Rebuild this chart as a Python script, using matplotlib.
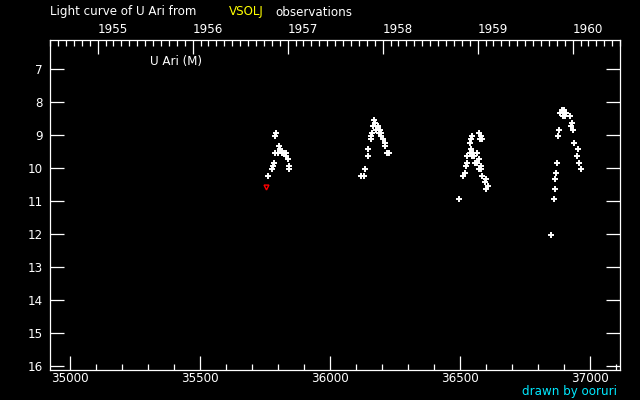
import matplotlib
matplotlib.use("Agg")
import matplotlib.pyplot as plt
from datetime import date

# observations (JD - 2400000, visual magnitude)
jd = [35794, 35790, 35806, 35810, 35788, 35801, 35817, 35825, 35833, 35833,
      35839, 35787, 35783, 35778, 35842, 35842, 35764,
      36171, 36175, 36167, 36187, 36179, 36194, 36164, 36190, 36198, 36198,
      36160, 36160, 36204, 36214, 36214, 36148, 36220, 36228, 36147, 36137,
      36121, 36133,
      36575, 36548, 36583, 36544, 36579, 36587, 36540, 36543, 36540, 36552,
      36567, 36529, 36548, 36556, 36575, 36529, 36560, 36567, 36524, 36583,
      36575, 36583, 36521, 36513, 36587, 36602, 36598, 36610, 36602, 36498,
      36894, 36902, 36887, 36906, 36910, 36898, 36906, 36925, 36932, 36929,
      36883, 36937, 36879, 36940, 36956, 36952, 36961, 36875, 36967, 36871,
      36867, 36867, 36864, 36852]
mag = [8.94, 9.03, 9.33, 9.42, 9.55, 9.55, 9.55, 9.55, 9.55, 9.64,
       9.73, 9.85, 9.94, 10.03, 9.94, 10.03, 10.24,
       8.55, 8.64, 8.73, 8.73, 8.85, 8.85, 8.94, 8.94, 8.94, 9.03,
       9.03, 9.12, 9.12, 9.24, 9.33, 9.42, 9.55, 9.55, 9.64, 10.03,
       10.24, 10.24,
       8.94, 9.03, 9.03, 9.12, 9.12, 9.12, 9.24, 9.42, 9.55, 9.55,
       9.55, 9.64, 9.64, 9.64, 9.73, 9.85, 9.85, 9.85, 9.94, 9.94,
       10.03, 10.03, 10.15, 10.24, 10.24, 10.34, 10.43, 10.55, 10.64, 10.94,
       8.24, 8.24, 8.33, 8.33, 8.33, 8.42, 8.42, 8.42, 8.64, 8.73,
       8.85, 8.85, 9.03, 9.24, 9.42, 9.64, 9.85, 9.85, 10.03, 10.15,
       10.34, 10.64, 10.94, 12.03]

# fainter-than observations
jd_red = [35756]
mag_red = [10.58]

years = [1955, 1956, 1957, 1958, 1959, 1960]
mag_ticks = [7, 8, 9, 10, 11, 12, 13, 14, 15, 16]
jd_ticks = [35000, 35500, 36000, 36500, 37000]

XMIN, XMAX = 34924, 37117
FS = 8.6


def to_jd(d):
    # JD - 2400000 at 0h UT
    return (d - date(1858, 11, 17)).days + 0.5


fig = plt.figure(figsize=(6.4, 4), dpi=100, facecolor="black")
ax = fig.add_axes([50/640, 30/400, 570/640, 330/400], facecolor="black")

ax.plot(jd, mag, "+", color="white", ms=4.5, mew=1.4, ls="none")
ax.plot(jd_red, mag_red, "v", color="red", ms=3.5, mfc="none", mew=1.0, ls="none")

ax.set_xticks(jd_ticks)
ax.set_xticks([t for t in range(34900, 37200, 100) if XMIN < t < XMAX], minor=True)
ax.set_yticks(mag_ticks)
ax.set_xlim(XMIN, XMAX)
ax.set_ylim(16.12, 6.11)
ax.tick_params(axis="both", which="both", direction="in", colors="white",
               labelsize=FS, width=0.9)
ax.tick_params(axis="x", which="major", length=10, pad=1.5, top=False)
ax.tick_params(axis="x", which="minor", length=4.5, top=False)
ax.tick_params(axis="y", which="major", length=10, pad=5, right=True)
ax.tick_params(axis="y", which="minor", left=False, right=False)
for s in ax.spines.values():
    s.set_color("white")
    s.set_linewidth(0.9)

# top axis: calendar years, labels start at the tick
top = ax.twiny()
top.set_xticks([to_jd(date(y, 1, 1)) for y in years])
top.set_xticklabels([str(y) for y in years], ha="left")
months = [to_jd(date(y, m, 1)) for y in range(1954, 1962) for m in range(1, 13)]
top.set_xticks([t for t in months if XMIN < t < XMAX], minor=True)
top.set_xlim(XMIN, XMAX)
top.tick_params(axis="x", which="both", direction="in", colors="white",
                labelsize=FS, width=0.9)
top.tick_params(axis="x", which="major", length=10, pad=3)
top.tick_params(axis="x", which="minor", length=4)
for s in top.spines.values():
    s.set_visible(False)

ax.text(100/570, 1 - 21/330, "U Ari (M)", transform=ax.transAxes,
        color="white", fontsize=FS, ha="left", va="center")

fig.text(50/640, 1 - 12/400, "Light curve of U Ari from", color="white",
         fontsize=FS, ha="left", va="center")
fig.text(229/640, 1 - 12/400, "VSOLJ", color="yellow",
         fontsize=FS, ha="left", va="center")
fig.text(275/640, 1 - 12/400, "observations", color="white",
         fontsize=FS, ha="left", va="center")
fig.text(617/640, 1 - 392/400, "drawn by ooruri", color="#00e8ff",
         fontsize=FS, ha="right", va="center")

fig.savefig("out.png", dpi=100, facecolor="black")
